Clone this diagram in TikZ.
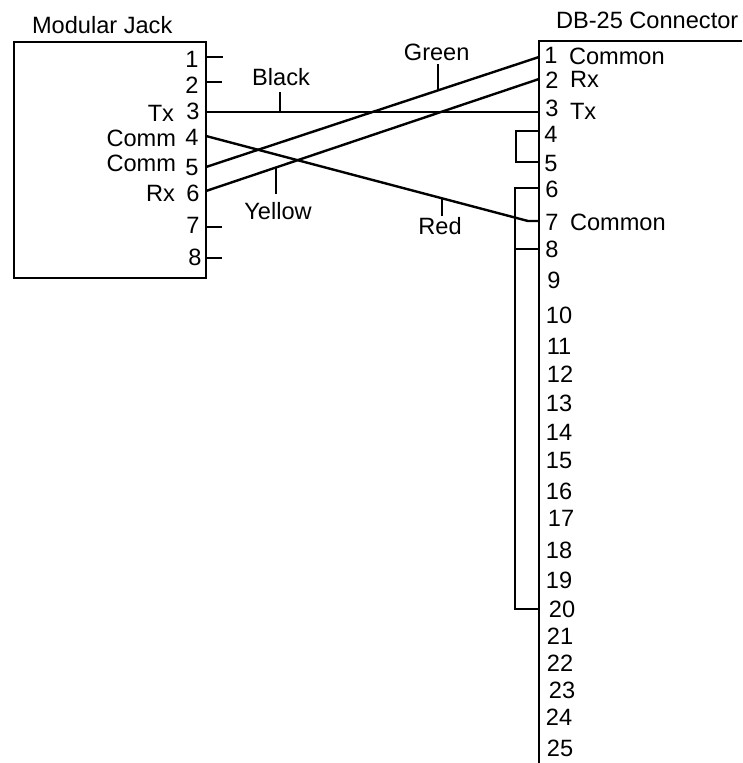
\documentclass[tikz,border=0pt]{standalone}
\usepackage{fontspec}
\setmainfont{Liberation Sans}
\tikzset{
  wire/.style={line width=2.4pt,line join=miter,color=black},
  lbl/.style={font=\fontsize{23.6}{25}\selectfont,inner sep=0pt,outer sep=0pt,text=black},
  jackbox/.style={draw=black,line width=2.4pt,inner sep=0pt,minimum width=192pt,minimum height=236pt},
}
\begin{document}
\begin{tikzpicture}[x=1pt,y=-1pt]
\useasboundingbox (0,0) rectangle (742,763);
\node[jackbox] (jack) at (110,160) {};
\node[lbl,anchor=west] (jt) at (32,25) {Modular Jack};
\node[lbl,anchor=west] (dt) at (556,20) {DB-25 Connector};
% jack pins
\foreach \n/\x/\y in {1/192/59,2/192/85,3/193/111,4/192/137,5/192/167,6/193/193,7/193/225,8/195/257}
  \node[lbl] (jl\n) at (\x,\y) {\n};
\node[lbl,anchor=east] (ltx) at (174,113) {Tx};
\node[lbl,anchor=east] (lc1) at (176,138) {Comm};
\node[lbl,anchor=east] (lc2) at (176,163) {Comm};
\node[lbl,anchor=east] (lrx) at (175,193) {Rx};
% connector pins
\foreach \n/\x/\y in {1/551/55,2/552/80,3/552/108,4/551/134,5/551/163,6/552/189,7/552/222,8/552/249,9/554/280,
 10/559/315,11/559/346,12/560/374,13/559/403,14/559/432,15/559/460,16/559/491,17/561/518,18/559/550,19/559/580,
 20/562/609,21/560/636,22/560/663,23/562/690,24/559/717,25/560/748}
  \node[lbl] (dl\n) at (\x,\y) {\n};
\node[lbl,anchor=west] (rc1) at (569,56) {Common};
\node[lbl,anchor=west] (rrx) at (570,79) {Rx};
\node[lbl,anchor=west] (rtx) at (570,111) {Tx};
\node[lbl,anchor=west] (rc7) at (570,222) {Common};
% wire labels
\node[lbl] (black) at (281,77) {Black};
\node[lbl] (yellow) at (278,211) {Yellow};
\node[lbl] (green) at (436.7,52) {Green};
\node[lbl] (red) at (440,226) {Red};
% coordinates
\foreach \n/\y in {1/57,2/82,3/112,4/136,5/167,6/191,7/227,8/258}
  \coordinate (j\n) at (206,\y);
\coordinate (s1) at (223,57);
\coordinate (s2) at (222,82);
\coordinate (s7) at (222,227);
\coordinate (s8) at (222,258);
\foreach \n/\y in {1/57,2/79,3/112,4/131,5/162,6/188,7/221,8/249,20/609}
  \coordinate (d\n) at (539,\y);
\coordinate (ctop) at (539,41);
\coordinate (ctopr) at (742,41);
\coordinate (cbot) at (539,763);
\coordinate (a) at (516,131);
\coordinate (b) at (516,162);
\coordinate (c) at (515,188);
\coordinate (e) at (515,249);
\coordinate (f) at (515,609);
\coordinate (g) at (528,221);
\coordinate (bt1) at (280,92);
\coordinate (bt2) at (280,112);
\coordinate (yt1) at (276,167);
\coordinate (yt2) at (276,194);
\coordinate (gt1) at (438,64);
\coordinate (gt2) at (438,90);
\coordinate (rt1) at (442,199);
\coordinate (rt2) at (442,216);
% connector outline
\draw[wire] (ctopr) -- (ctop) -- (cbot);
% stubs
\draw[wire] (j1) -- (s1);
\draw[wire] (j2) -- (s2);
\draw[wire] (j7) -- (s7);
\draw[wire] (j8) -- (s8);
% wires
\draw[wire] (j3) -- (d3);
\draw[wire] (j5) -- (d1);
\draw[wire] (j6) -- (d2);
\draw[wire] (j4) -- (g) -- (d7);
% jumpers
\draw[wire] (d4) -- (a) -- (b) -- (d5);
\draw[wire] (d6) -- (c) -- (f) -- (d20);
\draw[wire] (e) -- (d8);
% label ticks
\draw[wire] (bt1) -- (bt2);
\draw[wire] (yt1) -- (yt2);
\draw[wire] (gt1) -- (gt2);
\draw[wire] (rt1) -- (rt2);
\end{tikzpicture}
\end{document}
